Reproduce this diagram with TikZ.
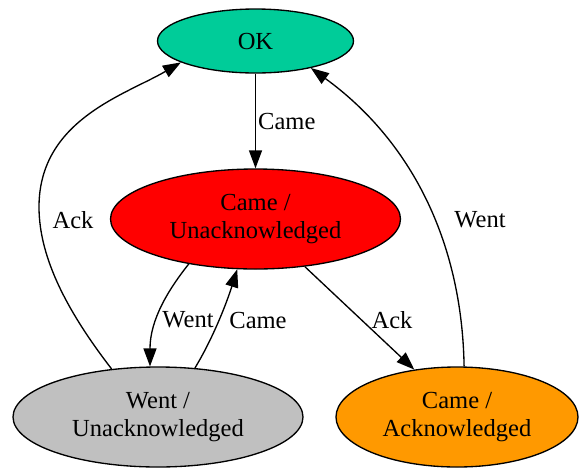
\documentclass[tikz,border=0pt]{standalone}
\usepackage{fontspec}
\setmainfont{Liberation Serif}
\usetikzlibrary{shapes.geometric,arrows.meta}
\definecolor{okgreen}{RGB}{0,204,153}
\definecolor{alarmred}{RGB}{255,0,0}
\definecolor{silvergray}{RGB}{192,192,192}
\definecolor{ackorange}{RGB}{255,153,0}
\begin{document}
\begin{tikzpicture}[x=0.75pt,y=-0.75pt,
  state/.style={ellipse,draw=black,line width=1pt,inner sep=0pt,align=center,
    font=\fontsize{18.4}{21.2}\selectfont},
  bigstate/.style={state,minimum width=217.5pt,minimum height=75pt},
  edge/.style={draw=black,line width=1pt,-{Triangle[length=13.5pt,width=9.75pt]}},
  lbl/.style={inner sep=0pt,font=\fontsize{18.4}{21.2}\selectfont}]
\useasboundingbox (0,0) rectangle (579,469);

% states
\node[state,fill=okgreen,minimum width=147pt,minimum height=48pt] (ok) at (255.5,41) {OK};
\node[bigstate,fill=alarmred] (cu) at (255.5,219) {Came /\\Unacknowledged};
\node[bigstate,fill=silvergray] (wu) at (158,417) {Went /\\Unacknowledged};
\node[state,fill=ackorange,minimum width=181.5pt,minimum height=75pt] (ca) at (457,417) {Came /\\Acknowledged};

% transitions
\draw[edge] (ok) -- node[lbl,anchor=west,xshift=1.5pt] (lcame) {Came} (cu);

\draw[edge] (cu.214) .. controls (168,290) and (150,320) .. (wu.99);
\node[lbl] (lwent) at (188,320) {Went};

\draw[edge] (wu.53) .. controls (212,340) and (226,305) .. (cu.250);
\node[lbl] (lcame2) at (258,320) {Came};

\draw[edge] (cu.316) -- (ca.132.5);
\node[lbl] (lack) at (392,320) {Ack};

\draw[edge] (wu.134) .. controls (70,315) and (39,260) .. (39,207)
  .. controls (39,120) and (125,95) .. (ok.196.7);
\node[lbl] (lack2) at (73,220) {Ack};

\draw[edge] (ca.82) .. controls (462,240) and (410,140) .. (ok.334);
\node[lbl] (lwent2) at (480,220) {Went};
\end{tikzpicture}
\end{document}
